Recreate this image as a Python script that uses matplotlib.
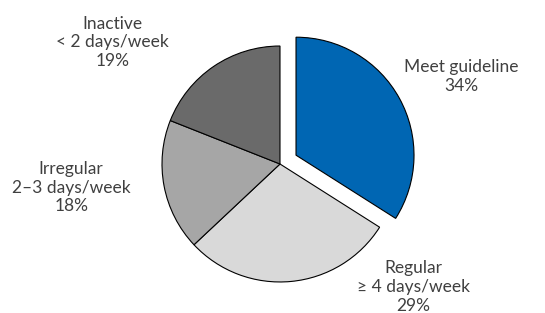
import matplotlib
matplotlib.use("Agg")
import matplotlib.pyplot as plt

# Data
labels = ["Meet guideline", "Regular\n\u2265 4 days/week", "Irregular\n2\u20133 days/week", "Inactive\n< 2 days/week"]
values = [34, 29, 18, 19]
colors = ["#0066b3", "#d9d9d9", "#a6a6a6", "#6a6a6a"]
explode = [0.155, 0, 0, 0]

# label positions (pie radius = 1)
label_x = [1.54, 1.13, -1.77, -1.42]
label_y = [0.74, -1.04, -0.20, 1.03]

fig = plt.figure(figsize=(5.45, 3.13), dpi=100)
ax = fig.add_axes([0, 0, 1, 1])
ax.pie(values, colors=colors, explode=explode, startangle=90, counterclock=False,
       radius=1, wedgeprops=dict(edgecolor="black", linewidth=0.8))
ax.set_aspect("auto")
ax.set_xlim(-2.373, 2.246)
ax.set_ylim(-1.263, 1.390)
ax.axis("off")

for lab, v, x, y in zip(labels, values, label_x, label_y):
    ax.text(x, y, f"{lab}\n{v}%", ha="center", va="center", fontsize=12.5,
            color="#404040", family=["Lato", "DejaVu Sans"],
            linespacing=1.22)

fig.savefig("out.png", dpi=100)
